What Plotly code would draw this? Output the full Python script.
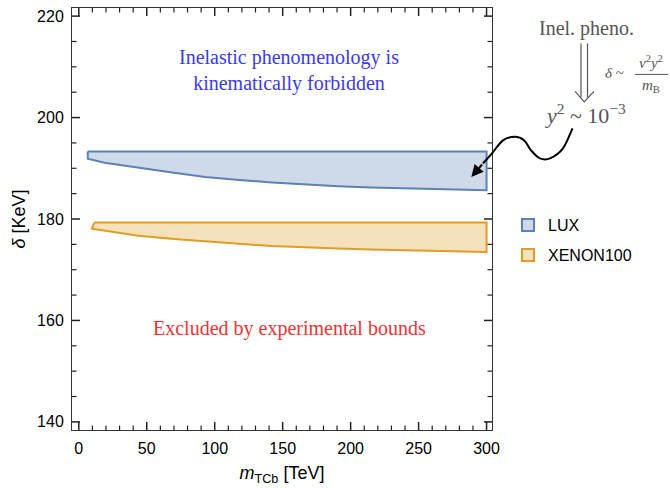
import plotly.graph_objects as go

# ---------------- data ----------------
lux_top = 193.3
lux_top_left_m = 6.6
lux_m = [6.6, 19, 44, 70, 93, 118, 142, 166, 191, 215, 240, 270, 300]
lux_low = [191.9, 191.1, 190.05, 189.1, 188.3, 187.7, 187.2, 186.8, 186.45, 186.2, 186.0, 185.8, 185.65]

xe_top = 179.3
xe_top_left_m = 11.5
xe_m = [9.6, 19.4, 44, 70, 93, 118, 142, 166, 191, 215, 240, 270, 300]
xe_low = [178.1, 177.6, 176.7, 176.05, 175.55, 175.1, 174.7, 174.45, 174.2, 174.0, 173.8, 173.65, 173.5]

x_ticks = [0, 50, 100, 150, 200, 250, 300]
y_ticks = [140, 160, 180, 200, 220]
x_range = [-5, 304]
y_range = [138.4, 221.6]

LUX_EDGE = "#5e81b5"
LUX_FILL = "rgba(94,129,181,0.3)"
XE_EDGE = "#e19c24"
XE_FILL = "rgba(225,156,36,0.3)"
TICKC = "#222222"

fig = go.Figure()


def region(ms, low, top, top_left, name, edge, fill):
    xs = [top_left, ms[-1]] + ms[::-1] + [top_left]
    ys = [top, top] + low[::-1] + [top]
    fig.add_trace(go.Scatter(
        x=xs, y=ys, mode="lines", fill="toself", fillcolor=fill,
        line=dict(color=edge, width=2), showlegend=False, hoverinfo="skip"))
    # legend swatch
    fig.add_trace(go.Scatter(
        x=[None], y=[None], mode="markers", name=name, legendgroup=name,
        marker=dict(symbol="square", size=14, color=fill,
                    line=dict(color=edge, width=1.5))))


region(lux_m, lux_low, lux_top, lux_top_left_m, "LUX", LUX_EDGE, LUX_FILL)
region(xe_m, xe_low, xe_top, xe_top_left_m, "XENON100", XE_EDGE, XE_FILL)

# plot-area geometry (pixels) for paper conversions
L, R, T, B = 72, 492, 7.5, 430
W, H = R - L, B - T
x_per_px = (x_range[1] - x_range[0]) / W
y_per_px = (y_range[1] - y_range[0]) / H


def px(x):
    return (x - L) / W


def py(y):
    return (B - y) / H


# frame ticks drawn inside on all four sides
x_minor = [v for v in range(0, 301, 10) if v not in x_ticks]
y_minor = [v for v in range(140, 221, 5) if v not in y_ticks]


def tick_trace(xv, yv, ln, wd):
    xs, ys = [], []
    dy = ln * y_per_px
    dx = ln * x_per_px
    for v in xv:
        xs += [v, v, None, v, v, None]
        ys += [y_range[0], y_range[0] + dy, None, y_range[1], y_range[1] - dy, None]
    for v in yv:
        xs += [x_range[0], x_range[0] + dx, None, x_range[1], x_range[1] - dx, None]
        ys += [v, v, None, v, v, None]
    fig.add_trace(go.Scatter(x=xs, y=ys, mode="lines", showlegend=False,
                             hoverinfo="skip", line=dict(color=TICKC, width=wd)))


tick_trace(x_ticks, y_ticks, 8, 1.5)
tick_trace(x_minor, y_minor, 4.5, 1.2)

serif = "Liberation Serif"
GRAY = "#555555"
ann = []


def label(x, y, text, size, color=GRAY, ref="paper"):
    ann.append(dict(x=x, y=y, xref=ref, yref=ref, showarrow=False, text=text,
                    xanchor="center", yanchor="middle", align="center",
                    font=dict(family=serif, size=size, color=color)))


label(155, 209.3, "Inelastic phenomenology is<br>kinematically forbidden", 20,
      "#3a3af0", ref="x")
ann[-1]["yref"] = "y"
label(155, 158.5, "Excluded by experimental bounds", 20, "#f03333", ref="x")
ann[-1]["yref"] = "y"
label(px(586), py(28), "Inel. pheno.", 20)
label(px(614), py(73), "<i>δ</i> ~", 15)
label(px(651), py(62), "<i>v</i><sup>2</sup><i>y</i><sup>2</sup>", 15)
label(px(651), py(86), "<i>m</i><sub>B</sub>", 15)
label(px(585), py(114), "<i>y</i><sup>2</sup> ~ 10<sup>−3</sup>", 22)

# arrow head of the wavy arrow
ann.append(dict(x=px(471.3), y=py(176.7), xref="paper", yref="paper", showarrow=True,
                ax=12, ay=-14, arrowhead=2, arrowsize=1.2, arrowwidth=2,
                arrowcolor="black", text=""))

shapes = []
# fraction bar
shapes.append(dict(type="line", xref="paper", yref="paper",
                   x0=px(635), x1=px(668), y0=py(74), y1=py(74),
                   line=dict(color=GRAY, width=1)))
# double arrow
for xx in (581, 587.5):
    shapes.append(dict(type="line", xref="paper", yref="paper",
                       x0=px(xx), x1=px(xx), y0=py(43), y1=py(97),
                       line=dict(color=GRAY, width=1.2)))
shapes.append(dict(type="path", xref="paper", yref="paper",
                   path=f"M {px(575)},{py(91)} L {px(584.3)},{py(101.5)} L {px(594)},{py(91)}",
                   line=dict(color=GRAY, width=1.2)))
# wavy curve (Catmull-Rom -> cubic Bezier)
pts = [(572.5, 128), (563, 148), (550, 158), (540, 158), (531, 150), (524, 140),
       (515, 136.5), (503, 140), (492, 153), (483, 163)]
path = f"M {px(pts[0][0])},{py(pts[0][1])}"
for i in range(len(pts) - 1):
    p0 = pts[i - 1] if i > 0 else pts[i]
    p1, p2 = pts[i], pts[i + 1]
    p3 = pts[i + 2] if i + 2 < len(pts) else pts[i + 1]
    c1 = (p1[0] + (p2[0] - p0[0]) / 6, p1[1] + (p2[1] - p0[1]) / 6)
    c2 = (p2[0] - (p3[0] - p1[0]) / 6, p2[1] - (p3[1] - p1[1]) / 6)
    path += (f" C {px(c1[0])},{py(c1[1])} {px(c2[0])},{py(c2[1])} "
             f"{px(p2[0])},{py(p2[1])}")
shapes.append(dict(type="path", xref="paper", yref="paper", path=path,
                   line=dict(color="black", width=2)))

fig.update_layout(
    width=670, height=488,
    margin=dict(l=L, r=670 - R, t=T, b=488 - B),
    paper_bgcolor="white", plot_bgcolor="white",
    annotations=ann, shapes=shapes, showlegend=True,
    legend=dict(x=px(508), y=py(240), xanchor="left", yanchor="middle",
                font=dict(family="Liberation Sans", size=16, color="black"),
                tracegroupgap=6, itemsizing="constant", bgcolor="rgba(0,0,0,0)"),
)
fig.update_xaxes(
    range=x_range, tickmode="array", tickvals=x_ticks, ticks="",
    showgrid=False, zeroline=False, showline=True, linecolor="#333333", linewidth=1,
    mirror=True, ticklabelstandoff=4,
    tickfont=dict(family="Liberation Sans", size=16, color="black"),
    title=dict(text="<i>m</i><sub>TCb</sub> [TeV]",
               font=dict(family="Liberation Sans", size=18, color="black"), standoff=10),
)
fig.update_yaxes(
    range=y_range, tickmode="array", tickvals=y_ticks, ticks="",
    showgrid=False, zeroline=False, showline=True, linecolor="#333333", linewidth=1,
    mirror=True, ticklabelstandoff=4,
    tickfont=dict(family="Liberation Sans", size=16, color="black"),
    title=dict(text="<i>δ</i> [KeV]",
               font=dict(family="Liberation Sans", size=18, color="black"), standoff=6),
)

fig.write_html("out.html")
